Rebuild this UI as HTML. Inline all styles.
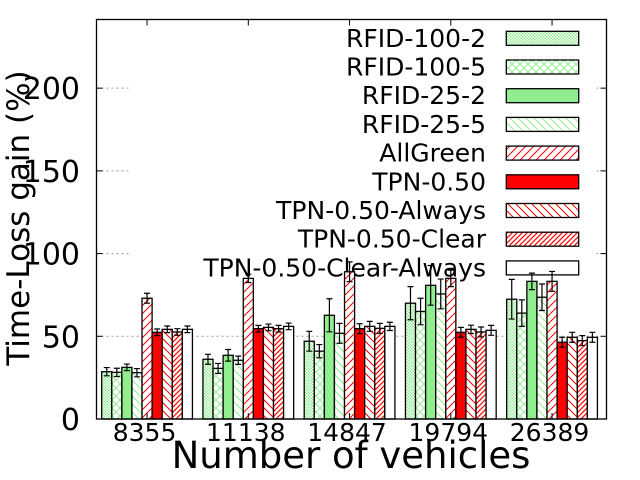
<!DOCTYPE html>
<html><head><meta charset="utf-8"><style>
body{margin:0;background:#fff}
svg{display:block}
text{font-family:"DejaVu Sans","Liberation Sans",sans-serif;fill:#000}
</style></head><body>
<svg id="chart" width="640" height="480" viewBox="0 0 640 480" xmlns="http://www.w3.org/2000/svg">
<defs>
<pattern id="p0" width="3" height="3" patternUnits="userSpaceOnUse"><rect width="3" height="3" fill="#fff"/><rect width="1.5" height="1.5" fill="#90ee90"/><rect x="1.5" y="1.5" width="1.5" height="1.5" fill="#90ee90"/></pattern>
<pattern id="p1" width="8" height="8" patternUnits="userSpaceOnUse"><rect width="8" height="8" fill="#fff"/><path d="M0 0L8 8M8 0L0 8" stroke="#90ee90" stroke-width="1"/></pattern>
<pattern id="p3" width="8" height="8" patternUnits="userSpaceOnUse"><rect width="8" height="8" fill="#fff"/><path d="M0 0L8 8M-4 4L4 12M4 -4L12 4" stroke="#90ee90" stroke-width="1"/></pattern>
<pattern id="p4" width="8" height="8" patternUnits="userSpaceOnUse"><rect width="8" height="8" fill="#fff"/><path d="M0 8L8 0M-4 4L4 -4M4 12L12 4" stroke="#f00" stroke-width="1"/></pattern>
<pattern id="p6" width="8" height="8" patternUnits="userSpaceOnUse"><rect width="8" height="8" fill="#fff"/><path d="M0 0L8 8M-4 4L4 12M4 -4L12 4" stroke="#f00" stroke-width="1"/></pattern>
<pattern id="p7" width="5" height="5" patternUnits="userSpaceOnUse"><rect width="5" height="5" fill="#fff"/><path d="M0 5L5 0M-2.5 2.5L2.5 -2.5M2.5 7.5L7.5 2.5" stroke="#f00" stroke-width="1.2"/></pattern>
</defs>
<g id="grid"></g>
<g id="legend"></g>
<g id="bars"></g>
<g id="axes"></g>
</svg>
<script>
const categories=["8355","11138","14847","19794","26389"];
const seriesNames=["RFID-100-2","RFID-100-5","RFID-25-2","RFID-25-5","AllGreen","TPN-0.50","TPN-0.50-Always","TPN-0.50-Clear","TPN-0.50-Clear-Always"];
const s0=[28.6,36.1,47,70,72.4];
const s1=[28.2,30.6,41,65,64];
const s2=[31.2,38.5,62.7,80.8,83.2];
const s3=[28,35.5,51.8,75.6,73.6];
const s4=[73,85,89,85,83.2];
const s5=[52.4,54.6,54.6,52.4,46.4];
const s6=[54.2,55.4,56,54.2,49.4];
const s7=[52.6,54.6,54.8,52.6,47.4];
const s8=[54.2,56,56,53.6,49.4];
const e0=[2.5,3,6,10,12];
const e1=[2.5,3,4,8,8];
const e2=[2,3.5,10,12,5];
const e3=[2.5,2.5,6,9,8];
const e4=[3,2.5,6,5,6];
const e5=[2,2,3,3,3];
const e6=[2,2,3,2.5,3];
const e7=[2,2,3,3,3];
const e8=[2,2,2.5,3,3];
const yTicks=[0,50,100,150,200];
const series=[s0,s1,s2,s3,s4,s5,s6,s7,s8];
const errs=[e0,e1,e2,e3,e4,e5,e6,e7,e8];
const fills=["url(#p0)","url(#p1)","#90ee90","url(#p3)","url(#p4)","#f00","url(#p6)","url(#p7)","#fff"];
const NS="http://www.w3.org/2000/svg";
const L=96.5,R=606.5,T=19.5,B=419,YMAX=241.5;
const y=v=>B-v/YMAX*(B-T);
const groupStart=i=>101.7+i*101.25;
const bw=10.08;
const x=(g,s)=>groupStart(g)+s*bw;
function mk(tag,attrs,parent){const e=document.createElementNS(NS,tag);for(const k in attrs)e.setAttribute(k,attrs[k]);parent.appendChild(e);return e;}
const grid=document.getElementById('grid'),bars=document.getElementById('bars'),axes=document.getElementById('axes'),leg=document.getElementById('legend');
yTicks.forEach(t=>{
  if(t>0){const gl=mk('line',{x1:L,x2:R,y1:y(t),y2:y(t),stroke:'#999','stroke-dasharray':'2,3','stroke-width':1},grid);
  
  }
  const tx=mk('text',{x:80,y:y(t)+11,'text-anchor':'end','font-size':30},axes);tx.textContent=t;
  
  
  mk('line',{x1:L,x2:L+6,y1:y(t),y2:y(t),stroke:'#000'},axes);
  mk('line',{x1:R,x2:R-6,y1:y(t),y2:y(t),stroke:'#000'},axes);
});
const lb=mk('rect',{x:130,y:22,width:466,height:258,fill:'#fff'},leg);


seriesNames.forEach((n,i)=>{
  const cy=38.3+i*28.7;
  const t=mk('text',{x:486,y:cy+8.5,'text-anchor':'end','font-size':25},leg);t.textContent=n;
  
  
  const r=mk('rect',{x:506.3,y:cy-7,width:72.4,height:14,fill:fills[i],stroke:'#000','stroke-width':1.3},leg);
  
  
});
categories.forEach((c,g)=>{
  series.forEach((s,k)=>{
    const v=s[g],x0=x(g,k);
    const r=mk('rect',{x:x0,y:y(v),width:bw,height:B-y(v),fill:fills[k],stroke:'#000','stroke-width':1.3},bars);
    
    
    const cx=x0+bw/2,e=errs[k][g];
    const eb=mk('path',{d:`M${cx} ${y(v-e)}V${y(v+e)}M${cx-3} ${y(v-e)}H${cx+3}M${cx-3} ${y(v+e)}H${cx+3}`,stroke:'#000','stroke-width':1.2,fill:'none'},bars);
    
    
  });
  const cx=groupStart(g)+4.5*bw;
  const t=mk('text',{x:cx-2.5,y:441,'text-anchor':'middle','font-size':25},axes);t.textContent=c;
  
  
  mk('line',{x1:cx,x2:cx,y1:B,y2:B-6,stroke:'#000'},axes);
  mk('line',{x1:cx,x2:cx,y1:T,y2:T+6,stroke:'#000'},axes);
});
const frame=mk('rect',{x:L,y:T,width:R-L,height:B-T,fill:'none',stroke:'#000','stroke-width':1.3},axes);


const xt=mk('text',{x:351,y:468,'text-anchor':'middle','font-size':37},axes);xt.textContent='Number of vehicles';


const yt=mk('text',{x:0,y:0,'text-anchor':'middle','font-size':31,transform:'translate(29,218) rotate(-90)'},axes);yt.textContent='Time-Loss gain (%)';


</script>
</body></html>
